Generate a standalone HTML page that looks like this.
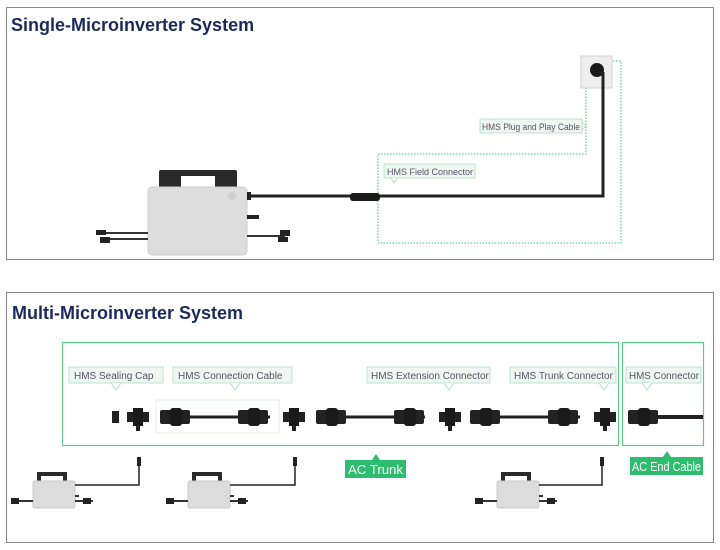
<!DOCTYPE html>
<html><head><meta charset="utf-8"><style>
body{margin:0;background:#fff;width:720px;height:550px;overflow:hidden}
svg{display:block}
text{font-family:"Liberation Sans",sans-serif}
</style></head><body>
<svg width="720" height="550" viewBox="0 0 720 550">
<defs>
<g id="inv">
 <path d="M4,-9 h30 v9 h-4 v-5 h-22 v5 h-4z" fill="#2a2a2a"/>
 <rect x="0" y="0" width="42" height="27" rx="2" fill="#dcdcdc" stroke="#c8c8c8"/>
 <rect x="42" y="14" width="4" height="2" fill="#333"/>
 <path d="M-20,20 h20 M42,20 h18" stroke="#333" stroke-width="2"/>
 <rect x="-22" y="17" width="8" height="6" fill="#222"/>
 <rect x="50" y="17" width="8" height="6" fill="#222"/>
</g>
<g id="tee">
 <rect x="-11" y="-5" width="22" height="10" fill="#222"/>
 <rect x="-5" y="-9" width="10" height="18" fill="#1a1a1a"/>
 <rect x="-2" y="9" width="4" height="5" fill="#222"/>
</g>
<g id="cab">
 <rect x="0" y="-7" width="30" height="14" rx="2" fill="#222"/>
 <rect x="10" y="-9" width="12" height="18" rx="3" fill="#1a1a1a"/>
</g>
</defs>

<!-- Top panel -->
<rect x="6.5" y="7.5" width="707" height="252" fill="#fff" stroke="#888"/>
<text x="11" y="31" font-size="18" font-weight="bold" fill="#1b2a5e">Single-Microinverter System</text>

<path d="M586,61 H621 V243 H378 V154 H586 Z" fill="none" stroke="#45c27a" stroke-width="1" stroke-dasharray="1.5,1.5"/>
<rect x="581" y="56" width="31" height="32" fill="#eeeeee" stroke="#d0d0d0"/>
<circle cx="597" cy="70" r="7" fill="#1a1a1a"/>
<path d="M603,72 V196 H250" fill="none" stroke="#222" stroke-width="3"/>
<rect x="350" y="193" width="30" height="8" rx="3" fill="#1a1a1a"/>
<rect x="480" y="119" width="102" height="14" fill="#eef7f1" stroke="#a8d8bb" stroke-width="0.7"/>
<text x="482" y="130" font-size="9" fill="#556" textLength="98" lengthAdjust="spacingAndGlyphs">HMS Plug and Play Cable</text>
<path d="M582,122 l4,4 l-4,4" fill="none" stroke="#a8d8bb" stroke-width="0.8"/>
<rect x="384" y="164" width="91" height="14" fill="#eef7f1" stroke="#a8d8bb" stroke-width="0.7"/>
<text x="387" y="175" font-size="9" fill="#556">HMS Field Connector</text>
<path d="M391,178 l3,5 l3,-5" fill="#fff" stroke="#a8d8bb" stroke-width="0.8"/>
<!-- big inverter -->
<rect x="159" y="170" width="78" height="18" rx="2" fill="#2a2a2a"/>
<rect x="181" y="176" width="34" height="12" fill="#fff"/>
<rect x="148" y="187" width="99" height="68" rx="4" fill="#dddddd" stroke="#cfcfcf"/>
<circle cx="232" cy="196" r="4" fill="#cfcfcf"/>
<rect x="247" y="192" width="4" height="8" fill="#222"/>
<rect x="247" y="215" width="12" height="4" fill="#222"/>
<path d="M105,233 H148 M105,239 H148 M247,236 H285" stroke="#333" stroke-width="2"/>
<rect x="96" y="230" width="10" height="5" fill="#222"/>
<rect x="100" y="237" width="10" height="6" fill="#222"/>
<rect x="280" y="230" width="10" height="6" fill="#222"/>
<rect x="278" y="237" width="10" height="5" fill="#222"/>

<!-- Bottom panel -->
<rect x="6.5" y="292.5" width="707" height="250" fill="#fff" stroke="#888"/>
<text x="12" y="319" font-size="18" font-weight="bold" fill="#1b2a5e">Multi-Microinverter System</text>
<rect x="62.5" y="342.5" width="556" height="103" fill="none" stroke="#5cc98a" stroke-width="1.2"/>
<rect x="622.5" y="342.5" width="81" height="103" fill="none" stroke="#5cc98a" stroke-width="1.2"/>

<g font-size="10" fill="#556">
<rect x="69" y="367" width="94" height="16" fill="#eef7f1" stroke="#a8d8bb" stroke-width="0.7"/>
<text x="74" y="379">HMS Sealing Cap</text>
<rect x="173" y="367" width="119" height="16" fill="#eef7f1" stroke="#a8d8bb" stroke-width="0.7"/>
<text x="178" y="379">HMS Connection Cable</text>
<rect x="367" y="367" width="123" height="16" fill="#eef7f1" stroke="#a8d8bb" stroke-width="0.7"/>
<text x="371" y="379">HMS Extension Connector</text>
<rect x="510" y="367" width="106" height="16" fill="#eef7f1" stroke="#a8d8bb" stroke-width="0.7"/>
<text x="514" y="379">HMS Trunk Connector</text>
<rect x="626" y="367" width="75" height="16" fill="#eef7f1" stroke="#a8d8bb" stroke-width="0.7"/>
<text x="629" y="379" textLength="70" lengthAdjust="spacingAndGlyphs">HMS Connector</text>
</g>
<g fill="#fff" stroke="#a8d8bb" stroke-width="0.8">
<path d="M111,383 l5,7 l5,-7"/><path d="M230,383 l5,7 l5,-7"/><path d="M444,383 l5,7 l5,-7"/><path d="M599,383 l5,7 l5,-7"/><path d="M642,383 l5,7 l5,-7"/>
</g>

<rect x="112" y="411" width="7" height="12" fill="#222"/>
<use href="#tee" x="138" y="417"/>
<rect x="156" y="400" width="123" height="33" fill="none" stroke="#d5ece0" stroke-width="0.8"/>
<path d="M165,417 H270" stroke="#222" stroke-width="3"/>
<use href="#cab" x="160" y="417"/><use href="#cab" x="238" y="417"/>
<use href="#tee" x="294" y="417"/>
<path d="M320,417 H425" stroke="#222" stroke-width="3"/>
<use href="#cab" x="316" y="417"/><use href="#cab" x="394" y="417"/>
<use href="#tee" x="450" y="417"/>
<path d="M475,417 H580" stroke="#222" stroke-width="3"/>
<use href="#cab" x="470" y="417"/><use href="#cab" x="548" y="417"/>
<use href="#tee" x="605" y="417"/>
<use href="#cab" x="628" y="417"/>
<path d="M655,417 H703" stroke="#222" stroke-width="4"/>

<rect x="345" y="460" width="61" height="18" fill="#2dbd6e"/>
<path d="M372,460 l4,-6 l4,6z" fill="#2dbd6e"/>
<text x="348" y="474" font-size="13" fill="#fff" textLength="55" lengthAdjust="spacingAndGlyphs">AC Trunk</text>
<rect x="630" y="457" width="73" height="18" fill="#2dbd6e"/>
<path d="M663,457 l4,-6 l4,6z" fill="#2dbd6e"/>
<text x="632" y="471" font-size="13" fill="#fff" textLength="69" lengthAdjust="spacingAndGlyphs">AC End Cable</text>

<use href="#inv" x="33" y="481"/>
<use href="#inv" x="188" y="481"/>
<use href="#inv" x="497" y="481"/>
<g fill="none" stroke="#222" stroke-width="1.5">
<path d="M75,485 H139 V463"/><path d="M230,485 H295 V463"/><path d="M539,485 H602 V463"/>
</g>
<rect x="137" y="457" width="4" height="9" fill="#222"/>
<rect x="293" y="457" width="4" height="9" fill="#222"/>
<rect x="600" y="457" width="4" height="9" fill="#222"/>
</svg>
</body></html>
